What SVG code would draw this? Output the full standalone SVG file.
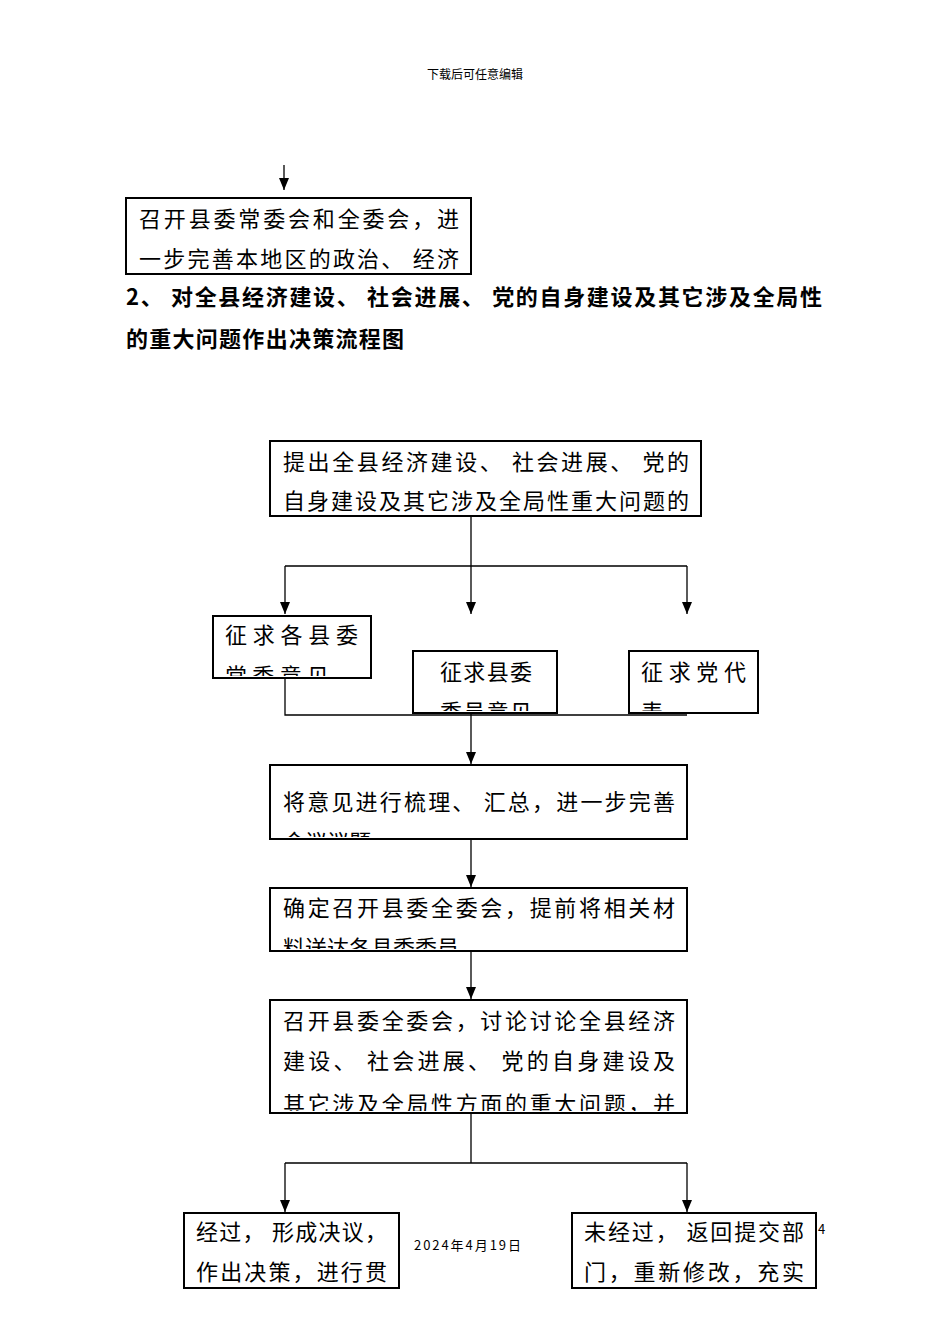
<svg xmlns="http://www.w3.org/2000/svg" width="950" height="1344" viewBox="0 0 950 1344">
<style>
text{font-family:"Noto Sans CJK SC","Noto Sans",sans-serif;fill:#000}
.t{font-size:22px}
.b{fill:#fff;stroke:#000;stroke-width:2}
.l{stroke:#000;stroke-width:1.3;fill:none}
</style>
<defs>
<marker id="d" markerWidth="10" markerHeight="12" refX="5" refY="12" markerUnits="userSpaceOnUse" viewBox="0 0 10 12"><path d="M0,0L10,0L5,12z" fill="#000"/></marker>
<clipPath id="c0"><rect x="126" y="198" width="345" height="76"/></clipPath>
<clipPath id="cA"><rect x="213" y="616" width="158" height="60"/></clipPath>
<clipPath id="cB"><rect x="413" y="651" width="144" height="60"/></clipPath>
<clipPath id="cC"><rect x="629" y="651" width="129" height="60"/></clipPath>
<clipPath id="cD"><rect x="270" y="765" width="417" height="72"/></clipPath>
<clipPath id="cE"><rect x="270" y="888" width="417" height="61"/></clipPath>
<clipPath id="cF"><rect x="270" y="1000" width="417" height="111"/></clipPath>
<clipPath id="cG"><rect x="184" y="1213" width="215" height="73"/></clipPath>
<clipPath id="cH"><rect x="572" y="1213" width="244" height="73"/></clipPath>
</defs>
<text x="475" y="79" font-size="12" text-anchor="middle">下载后可任意编辑</text>
<g id="connectors">
<path class="l" d="M284,165V190" marker-end="url(#d)"/>
<path class="l" d="M471,516V566M285,566H687"/>
<path class="l" d="M285,566V614" marker-end="url(#d)"/>
<path class="l" d="M471,566V614" marker-end="url(#d)"/>
<path class="l" d="M687,566V614" marker-end="url(#d)"/>
<path class="l" d="M285,678V715H687"/>
<path class="l" d="M471,680V764" marker-end="url(#d)"/>
<path class="l" d="M471,839V887" marker-end="url(#d)"/>
<path class="l" d="M471,951V999" marker-end="url(#d)"/>
<path class="l" d="M471,1113V1163M285,1163H687"/>
<path class="l" d="M285,1163V1212" marker-end="url(#d)"/>
<path class="l" d="M687,1163V1212" marker-end="url(#d)"/>
</g>
<g id="n0"><rect class="b" x="126" y="198" width="345" height="76"/>
<g clip-path="url(#c0)"><text class="t" x="139" y="227" textLength="320" lengthAdjust="spacing">召开县委常委会和全委会，进</text><text class="t" x="139" y="267" textLength="320" lengthAdjust="spacing">一步完善本地区的政治、 经济</text></g></g>
<g id="heading"><text x="126" y="305" font-size="22" font-weight="bold" textLength="696" lengthAdjust="spacing">2、 对全县经济建设、 社会进展、 党的自身建设及其它涉及全局性</text>
<text x="126" y="347" font-size="22" font-weight="bold" textLength="278" lengthAdjust="spacing">的重大问题作出决策流程图</text></g>
<g id="n1"><rect class="b" x="270" y="441" width="431" height="75"/>
<text class="t" x="283" y="470" textLength="406" lengthAdjust="spacing">提出全县经济建设、 社会进展、 党的</text><text class="t" x="283" y="509" textLength="406" lengthAdjust="spacing">自身建设及其它涉及全局性重大问题的</text></g>
<g id="nA"><rect class="b" x="213" y="616" width="158" height="62"/>
<g clip-path="url(#cA)"><text class="t" x="225" y="643" textLength="133" lengthAdjust="spacing">征求各县委</text><text class="t" x="225" y="684" textLength="104" lengthAdjust="spacing">常委意见</text></g></g>
<g id="nB"><rect class="b" x="413" y="651" width="144" height="62"/>
<g clip-path="url(#cB)"><text class="t" x="440" y="680" textLength="92" lengthAdjust="spacing">征求县委</text><text class="t" x="440" y="720" textLength="92" lengthAdjust="spacing">委员意见</text></g></g>
<g id="nC"><rect class="b" x="629" y="651" width="129" height="62"/>
<g clip-path="url(#cC)"><text class="t" x="641" y="680" textLength="105" lengthAdjust="spacing">征求党代</text><text class="t" x="641" y="720">表</text></g></g>
<g id="nD"><rect class="b" x="270" y="765" width="417" height="74"/>
<g clip-path="url(#cD)"><text class="t" x="283" y="810" textLength="392" lengthAdjust="spacing">将意见进行梳理、 汇总，进一步完善</text><text class="t" x="283" y="850">会议议题</text></g></g>
<g id="nE"><rect class="b" x="270" y="888" width="417" height="63"/>
<g clip-path="url(#cE)"><text class="t" x="283" y="916" textLength="392" lengthAdjust="spacing">确定召开县委全委会，提前将相关材</text><text class="t" x="283" y="956">料送达各县委委员</text></g></g>
<g id="nF"><rect class="b" x="270" y="1000" width="417" height="113"/>
<g clip-path="url(#cF)"><text class="t" x="283" y="1029" textLength="392" lengthAdjust="spacing">召开县委全委会，讨论讨论全县经济</text><text class="t" x="283" y="1069" textLength="392" lengthAdjust="spacing">建设、 社会进展、 党的自身建设及</text><text class="t" x="283" y="1112" textLength="392" lengthAdjust="spacing">其它涉及全局性方面的重大问题，并</text></g></g>
<g id="nG"><rect class="b" x="184" y="1213" width="215" height="75"/>
<g clip-path="url(#cG)"><text class="t" x="196" y="1240" textLength="191" lengthAdjust="spacing">经过， 形成决议，</text><text class="t" x="196" y="1280" textLength="191" lengthAdjust="spacing">作出决策，进行贯</text></g></g>
<g id="nH"><rect class="b" x="572" y="1213" width="244" height="75"/>
<g clip-path="url(#cH)"><text class="t" x="584" y="1240" textLength="220" lengthAdjust="spacing">未经过， 返回提交部</text><text class="t" x="584" y="1280" textLength="220" lengthAdjust="spacing">门，重新修改，充实</text></g></g>
<text x="414" y="1250" font-size="13" textLength="107" lengthAdjust="spacing">2024年4月19日</text>
<text x="818" y="1234" font-size="13">4</text>
</svg>
